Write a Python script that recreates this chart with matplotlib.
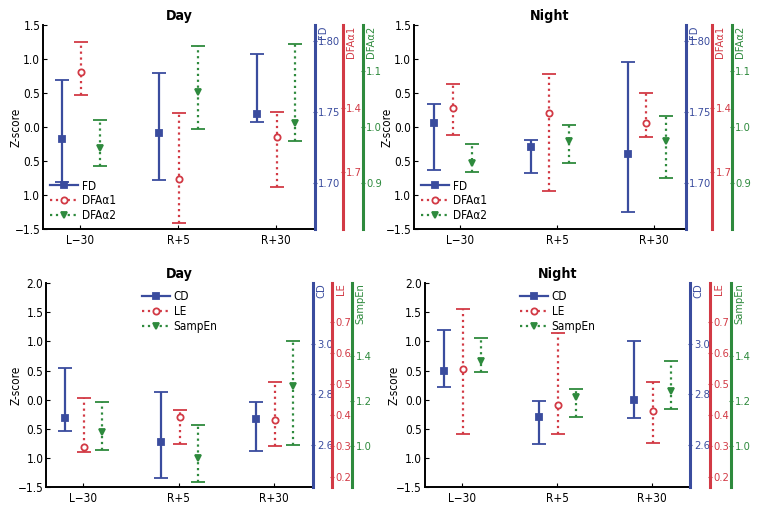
import matplotlib.pyplot as plt
from matplotlib.lines import Line2D

plt.rcParams['font.family'] = ['DejaVu Sans']
plt.rcParams['font.stretch'] = 'condensed'
plt.rcParams['font.size'] = 8.5

BLUE = '#3a4c9e'
RED = '#d23a45'
GREEN = '#2e8a3d'

groups = ['L\u221230', 'R+5', 'R+30']

# z-score: centre, lower end, upper end (L-30, R+5, R+30)
day_fd = [-0.17, -0.09, 0.20]
day_fd_lo = [-0.80, -0.77, 0.07]
day_fd_hi = [0.69, 0.80, 1.08]
day_a1 = [0.81, -0.76, -0.15]
day_a1_lo = [0.47, -1.41, -0.88]
day_a1_hi = [1.26, 0.21, 0.23]
day_a2 = [-0.30, 0.52, 0.06]
day_a2_lo = [-0.57, -0.02, -0.20]
day_a2_hi = [0.11, 1.19, 1.23]

night_fd = [0.06, -0.29, -0.40]
night_fd_lo = [-0.63, -0.68, -1.25]
night_fd_hi = [0.34, -0.19, 0.96]
night_a1 = [0.29, 0.21, 0.06]
night_a1_lo = [-0.12, -0.94, -0.15]
night_a1_hi = [0.63, 0.78, 0.51]
night_a2 = [-0.52, -0.20, -0.20]
night_a2_lo = [-0.66, -0.53, -0.75]
night_a2_hi = [-0.24, 0.03, 0.17]

day_cd = [-0.31, -0.73, -0.34]
day_cd_lo = [-0.54, -1.34, -0.88]
day_cd_hi = [0.55, 0.13, -0.04]
day_le = [-0.81, -0.30, -0.35]
day_le_lo = [-0.90, -0.76, -0.80]
day_le_hi = [0.02, -0.17, 0.30]
day_se = [-0.56, -1.00, 0.23]
day_se_lo = [-0.87, -1.42, -0.78]
day_se_hi = [-0.04, -0.44, 1.00]

night_cd = [0.50, -0.29, -0.01]
night_cd_lo = [0.21, -0.77, -0.31]
night_cd_hi = [1.19, -0.03, 1.01]
night_le = [0.52, -0.09, -0.20]
night_le_lo = [-0.59, -0.59, -0.74]
night_le_hi = [1.56, 1.15, 0.31]
night_se = [0.66, 0.04, 0.15]
night_se_lo = [0.48, -0.29, -0.16]
night_se_hi = [1.05, 0.19, 0.67]

top_yticks = [1.5, 1.0, 0.5, 0.0, -0.5, -1.0, -1.5]
top_ylabels = ['1.5', '1.0', '0.5', '0.0', '0.5', '1.0', '\u22121.5']
bot_yticks = [2.0, 1.5, 1.0, 0.5, 0.0, -0.5, -1.0, -1.5]
bot_ylabels = ['2.0', '1.5', '1.0', '0.5', '0.0', '0.5', '1.0', '\u22121.5']

# right-hand scales: (name, limits, ticks, labels)
fd_scale = ('FD', (1.6675, 1.8113), [1.70, 1.75, 1.80], ['1.70', '1.75', '1.80'])
a1_scale = ('DFA\u03b11', (1.967, 1.0125), [1.4, 1.7], ['1.4', '1.7'])
a2_scale = ('DFA\u03b12', (0.816, 1.183), [0.9, 1.0, 1.1], ['0.9', '1.0', '1.1'])
cd_scale = ('CD', (2.432, 3.242), [2.6, 2.8, 3.0], ['2.6', '2.8', '3.0'])
le_scale = ('LE', (0.168, 0.827), [0.2, 0.3, 0.4, 0.5, 0.6, 0.7],
            ['0.2', '0.3', '0.4', '0.5', '0.6', '0.7'])
se_scale = ('SampEn', (0.821, 1.719), [1.0, 1.2, 1.4], ['1.0', '1.2', '1.4'])

fig = plt.figure(figsize=(7.68, 5.28), dpi=100)


def panel(rect, title, series, names, offsets, xlim, yticks, ylabels, ylim,
          scales, spine_pos, legend_loc, legend_anchor, ylab_x):
    ax = fig.add_axes(rect)
    styles = [(BLUE, '-', 's', BLUE, 1.6), (RED, ':', 'o', 'white', 1.6),
              (GREEN, ':', 'v', GREEN, 1.6)]
    handles = []
    for (c, lo, hi), off, (col, ls, mk, fc, lw), name in zip(series, offsets, styles, names):
        xs = [i + off for i in range(len(groups))]
        err = [[ci - l for ci, l in zip(c, lo)], [h - ci for ci, h in zip(c, hi)]]
        eb = ax.errorbar(xs, c, yerr=err, fmt=mk, color=col, mfc=fc, mec=col,
                         ms=4.5, mew=1.3, elinewidth=lw, capsize=5, capthick=lw)
        eb[2][0].set_linestyle(ls)
        handles.append(Line2D([], [], color=col, ls=ls, lw=lw, marker=mk,
                              mfc=fc, mec=col, ms=4.5, mew=1.3, label=name))
    ax.set_xlim(*xlim)
    ax.set_ylim(*ylim)
    ax.set_xticks(range(len(groups)))
    ax.set_xticklabels(groups)
    ax.set_yticks(yticks)
    ax.set_yticklabels(ylabels)
    ax.tick_params(axis='y', direction='in', length=3, pad=2)
    ax.tick_params(axis='x', direction='in', length=3)
    ax.spines['top'].set_visible(False)
    ax.spines['right'].set_visible(False)
    for s in ['left', 'bottom']:
        ax.spines[s].set_linewidth(1.4)
    ax.set_ylabel('Z-score')
    ax.yaxis.set_label_coords(ylab_x, 0.5)
    ax.set_title(title, fontweight='bold', pad=4)
    ax.legend(handles=handles, loc=legend_loc, bbox_to_anchor=legend_anchor,
              frameon=False, handlelength=2.4, handletextpad=0.3,
              labelspacing=0.15, borderaxespad=0.2)

    for (name, lim, ticks, labels), pos, col in zip(scales, spine_pos, [BLUE, RED, GREEN]):
        tw = ax.twinx()
        tw.spines['right'].set_position(('axes', pos))
        for s in ['left', 'top', 'bottom']:
            tw.spines[s].set_visible(False)
        tw.spines['right'].set_color(col)
        tw.spines['right'].set_linewidth(2.2)
        tw.set_ylim(*lim)
        tw.set_yticks(ticks)
        tw.set_yticklabels(labels)
        tw.tick_params(axis='y', colors=col, direction='inout', length=3, pad=1,
                       labelsize=8)
        tw.text(pos + 0.012, 1.0, name, transform=tw.transAxes, rotation=90,
                va='top', ha='left', color=col, fontsize=8)
    return ax


panel([0.056, 0.566, 0.354, 0.386], 'Day',
      [(day_fd, day_fd_lo, day_fd_hi), (day_a1, day_a1_lo, day_a1_hi),
       (day_a2, day_a2_lo, day_a2_hi)],
      ['FD', 'DFA\u03b11', 'DFA\u03b12'], [-0.19, 0.01, 0.20], (-0.38, 2.40),
      top_yticks, top_ylabels, (-1.5, 1.5), [fd_scale, a1_scale, a2_scale],
      [1.0, 1.103, 1.176], 'lower left', (0.0, 0.0), -0.075)

panel([0.539, 0.566, 0.354, 0.386], 'Night',
      [(night_fd, night_fd_lo, night_fd_hi), (night_a1, night_a1_lo, night_a1_hi),
       (night_a2, night_a2_lo, night_a2_hi)],
      ['FD', 'DFA\u03b11', 'DFA\u03b12'], [-0.27, -0.08, 0.12], (-0.48, 2.33),
      top_yticks, top_ylabels, (-1.5, 1.5), [fd_scale, a1_scale, a2_scale],
      [1.0, 1.096, 1.169], 'lower left', (0.0, 0.0), -0.075)

panel([0.060, 0.0777, 0.348, 0.386], 'Day',
      [(day_cd, day_cd_lo, day_cd_hi), (day_le, day_le_lo, day_le_hi),
       (day_se, day_se_lo, day_se_hi)],
      ['CD', 'LE', 'SampEn'], [-0.19, 0.01, 0.20], (-0.39, 2.41),
      bot_yticks, bot_ylabels, (-1.5, 2.0), [cd_scale, le_scale, se_scale],
      [1.0, 1.071, 1.146], 'upper center', (0.5, 1.0), -0.09)

panel([0.553, 0.0777, 0.346, 0.386], 'Night',
      [(night_cd, night_cd_lo, night_cd_hi), (night_le, night_le_lo, night_le_hi),
       (night_se, night_se_lo, night_se_hi)],
      ['CD', 'LE', 'SampEn'], [-0.19, 0.01, 0.20], (-0.39, 2.40),
      bot_yticks, bot_ylabels, (-1.5, 2.0), [cd_scale, le_scale, se_scale],
      [1.0, 1.075, 1.154], 'upper center', (0.5, 1.0), -0.09)

fig.savefig('out.png', dpi=100)
